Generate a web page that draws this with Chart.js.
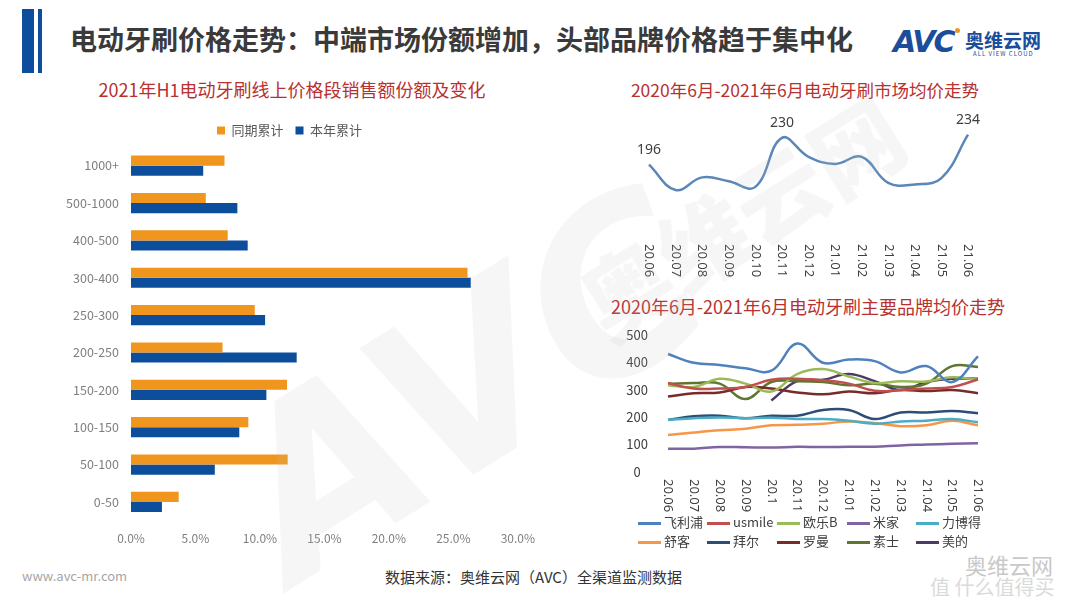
<!DOCTYPE html>
<html>
<head>
<meta charset="utf-8">
<script src="https://cdn.jsdelivr.net/npm/chart.js@4"></script>
<style>
  body { margin: 0; background: #fff; font-family: "Noto Sans CJK SC", "Noto Sans", sans-serif; }
  #page { position: relative; width: 1080px; height: 608px; overflow: hidden; background: #fff; }
  .abs { position: absolute; }
  .bar1 { left: 22px; top: 9px; width: 12px; height: 64px; background: #0c4e9b; }
  .bar2 { left: 38px; top: 9px; width: 4px; height: 64px; background: #0c4e9b; }
  .title { left: 70px; top: 19px; font-size: 27px; font-weight: bold; color: #3a3a3a; white-space: nowrap; }
  .sub { font-size: 18px; color: #b8312f; white-space: nowrap; transform: translateX(-50%); }
  .logo { left: 893px; top: 24px; color: #1a4d9c; }
  .legend2 { font-size: 13px; color: #404040; white-space: nowrap; }
  .legend2 i { display: inline-block; width: 23px; height: 2.5px; vertical-align: middle; margin-right: 3px; }
  canvas { display: block; }
</style>
</head>
<body>
<div id="page">
  <div class="abs bar1"></div>
  <div class="abs bar2"></div>
  <div class="abs title">电动牙刷价格走势：中端市场份额增加，头部品牌价格趋于集中化</div>
  <div class="abs logo">
    <span style="font: italic 900 30px 'DejaVu Sans', sans-serif; letter-spacing: -2px;">AVC</span><span style="position:absolute; left:62px; top:4px; width:5px; height:5px; border-radius:50%; background:#f0961e;"></span>
    <span style="position:absolute; left:72px; top:2px; font-size:19px; font-weight:bold; white-space:nowrap;">奥维云网</span>
    <span style="position:absolute; left:80px; top:25px; font-size:6px; letter-spacing:1px; white-space:nowrap;">ALL VIEW CLOUD</span>
  </div>

  <div class="abs sub" style="left:292px; top:76px;">2021年H1电动牙刷线上价格段销售额份额及变化</div>
  <div class="abs sub" style="left:805px; top:77px; font-size:17.5px;">2020年6月-2021年6月电动牙刷市场均价走势</div>
  <div class="abs sub" style="left:808px; top:293px;">2020年6月-2021年6月电动牙刷主要品牌均价走势</div>

  <div class="abs" style="left:60px; top:112px; width:478px; height:437px;"><canvas id="shareChart"></canvas></div>
  <div class="abs" style="left:615px; top:100px; width:390px; height:183px;"><canvas id="avgChart"></canvas></div>
  <div class="abs" style="left:612px; top:315px; width:380px; height:200px;"><canvas id="brandChart"></canvas></div>

  <div class="abs" style="left:22px; top:566px; font-size:13px; color:#a6a6a6;">www.avc-mr.com</div>
  <div class="abs" style="left:385px; top:566px; font-size:15px; color:#333;">数据来源：奥维云网（AVC）全渠道监测数据</div>
  <div class="abs" style="left:965px; top:548px; font-size:22px; color:#c8c8c8; white-space:nowrap;">奥维云网</div>
  <div class="abs" style="left:930px; top:572px; font-size:20px; color:#dadada; white-space:nowrap;">值 什么值得买</div>

  <div class="abs" style="left:215px; top:250px; font: italic 900 230px 'DejaVu Sans', sans-serif; color: rgba(190,190,190,0.14); transform: rotate(-32deg); pointer-events:none; white-space:nowrap;">AVC</div>
  <div class="abs" style="left:560px; top:150px; font-size:90px; font-weight:900; color: rgba(190,190,190,0.14); transform: rotate(-32deg); pointer-events:none; white-space:nowrap;">奥维云网</div>
</div>

<script>
// 价格段份额
var categories = ['1000+', '500-1000', '400-500', '300-400', '250-300', '200-250', '150-200', '100-150', '50-100', '0-50'];
var lastYear = [7.25, 5.8, 7.5, 26.1, 9.6, 7.1, 12.1, 9.1, 12.15, 3.7];   // 同期累计
var thisYear = [5.6, 8.25, 9.05, 26.35, 10.4, 12.85, 10.5, 8.4, 6.5, 2.4]; // 本年累计
var shareTicks = [0, 5, 10, 15, 20, 25, 30];

// 市场均价
var months = ['20.06', '20.07', '20.08', '20.09', '20.10', '20.11', '20.12', '21.01', '21.02', '21.03', '21.04', '21.05', '21.06'];
var avgPrice = [196, 164, 180, 175, 168, 230, 206, 197, 206, 173, 171, 179, 234];
var avgLabelIdx = [0, 5, 12];

// 主要品牌均价
var brandMonths = ['20.06', '20.07', '20.08', '20.09', '20.1', '20.11', '20.12', '21.01', '21.02', '21.03', '21.04', '21.05', '21.06'];
var brandNames = ['飞利浦', 'usmile', '欧乐B', '米家', '力博得', '舒客', '拜尔', '罗曼', '素士', '美的'];
var brandColors = ['#4f81bd', '#c0504d', '#9bbb59', '#8064a2', '#4bacc6', '#f79646', '#2c4d75', '#772c2a', '#5f7530', '#4d3b62'];
var philips = [430, 398, 390, 378, 369, 468, 398, 410, 404, 363, 386, 328, 421];
var usmile  = [324, 304, 304, 310, 336, 340, 334, 322, 296, 299, 304, 310, 337];
var oralB   = [316, 310, 340, 322, 293, 357, 375, 348, 324, 331, 330, 345, 336];
var mijia   = [85, 85, 91, 90, 89, 92, 91, 92, 92, 97, 100, 103, 105];
var libode  = [190, 196, 199, 196, 198, 193, 193, 187, 176, 184, 187, 193, 181];
var shuke   = [135, 144, 152, 158, 170, 172, 176, 184, 178, 167, 170, 187, 170];
var baier   = [190, 203, 205, 196, 205, 205, 226, 226, 193, 217, 217, 222, 214];
var luoman  = [275, 287, 290, 310, 304, 290, 283, 293, 287, 299, 295, 299, 287];
var soocas  = [322, 324, 322, 266, 328, 331, 328, 316, 322, 310, 322, 386, 383];
var midea   = [null, null, null, null, 261, 331, 336, 357, 331, 299, 328, 340, 340];
var brandValues = [philips, usmile, oralB, mijia, libode, shuke, baier, luoman, soocas, midea];
var brandTicks = [0, 100, 200, 300, 400, 500];

Chart.defaults.font.family = '"Noto Sans CJK SC", "Noto Sans", sans-serif';
Chart.defaults.color = '#595959';
Chart.defaults.animation = false;

// 竖排的x轴标签（顺时针旋转）
var verticalLabels = {
  id: 'verticalLabels',
  afterDraw: function(chart, args, opts) {
    var ctx = chart.ctx;
    var xs = chart.scales.x;
    ctx.save();
    ctx.fillStyle = opts.color;
    ctx.font = opts.size + 'px "Noto Sans", sans-serif';
    ctx.textAlign = 'left';
    ctx.textBaseline = 'middle';
    chart.data.labels.forEach(function(lab, i) {
      ctx.save();
      ctx.translate(xs.getPixelForValue(i), chart.chartArea.bottom + opts.offset);
      ctx.rotate(Math.PI / 2);
      ctx.fillText(lab, 0, 0);
      ctx.restore();
    });
    ctx.restore();
  }
};

var pointLabels = {
  id: 'pointLabels',
  afterDatasetsDraw: function(chart, args, opts) {
    if (!opts.indexes) return;
    var ctx = chart.ctx;
    var meta = chart.getDatasetMeta(0);
    ctx.save();
    ctx.fillStyle = '#404040';
    ctx.font = '14px "Noto Sans", sans-serif';
    ctx.textAlign = 'center';
    ctx.textBaseline = 'bottom';
    opts.indexes.forEach(function(i) {
      var p = meta.data[i];
      ctx.fillText(chart.data.datasets[0].data[i], p.x, p.y - 8);
    });
    ctx.restore();
  }
};

new Chart(document.getElementById('shareChart'), {
  type: 'bar',
  data: {
    labels: categories,
    datasets: [
      { label: '同期累计', data: lastYear, backgroundColor: '#f0961e' },
      { label: '本年累计', data: thisYear, backgroundColor: '#0c4e9b' }
    ]
  },
  options: {
    indexAxis: 'y',
    responsive: true,
    maintainAspectRatio: false,
    categoryPercentage: 0.54,
    barPercentage: 1.0,
    layout: { padding: { right: 19 } },
    plugins: {
      legend: {
        position: 'top',
        labels: { boxWidth: 8, boxHeight: 8, padding: 12, color: '#595959', font: { size: 13 } }
      },
      tooltip: { enabled: false }
    },
    scales: {
      x: {
        min: 0, max: 30,
        afterBuildTicks: function(s) { s.ticks = shareTicks.map(function(v) { return { value: v }; }); },
        grid: { display: false },
        border: { display: false },
        ticks: { color: '#7f7f7f', font: { size: 12 }, padding: 3, callback: function(v) { return v.toFixed(1) + '%'; } }
      },
      y: {
        afterFit: function(s) { s.width = 71; },
        grid: { display: false },
        border: { display: false },
        ticks: { color: '#7f7f7f', font: { size: 12.5 }, padding: 4 }
      }
    }
  }
});

new Chart(document.getElementById('avgChart'), {
  type: 'line',
  data: {
    labels: months,
    datasets: [{ data: avgPrice, borderColor: '#5b87b8', borderWidth: 2.5, tension: 0.4, pointRadius: 0, fill: false }]
  },
  options: {
    responsive: true,
    maintainAspectRatio: false,
    layout: { padding: { left: 34, right: 37, top: 22, bottom: 55 } },
    plugins: {
      legend: { display: false },
      tooltip: { enabled: false },
      verticalLabels: { color: '#404040', size: 13, offset: 16 },
      pointLabels: { indexes: avgLabelIdx }
    },
    scales: {
      x: { display: false },
      y: { display: false, min: 116, max: 250 }
    }
  },
  plugins: [verticalLabels, pointLabels]
});

new Chart(document.getElementById('brandChart'), {
  type: 'line',
  data: {
    labels: brandMonths,
    datasets: brandNames.map(function(name, i) {
      return { label: name, data: brandValues[i], borderColor: brandColors[i], borderWidth: 2.5,
               tension: 0.4, pointRadius: 0, fill: false, spanGaps: false };
    })
  },
  options: {
    responsive: true,
    maintainAspectRatio: false,
    layout: { padding: { right: 14, top: 14, bottom: 43 } },
    plugins: {
      legend: { display: false },
      tooltip: { enabled: false },
      verticalLabels: { color: '#404040', size: 13, offset: 7 }
    },
    scales: {
      x: { display: false },
      y: {
        min: 0, max: 500,
        afterBuildTicks: function(s) { s.ticks = brandTicks.map(function(v) { return { value: v }; }); },
        afterFit: function(s) { s.width = 56; },
        grid: { display: false },
        border: { display: false },
        ticks: { color: '#404040', font: { size: 13 }, crossAlign: 'center', padding: 12 }
      }
    }
  },
  plugins: [verticalLabels]
});

// 图例（两行五列）
var legendCols = [638, 707, 777, 847, 916];
var legendRows = [512, 531];
brandNames.forEach(function(name, i) {
  var d = document.createElement('div');
  d.className = 'abs legend2';
  d.style.left = legendCols[i % 5] + 'px';
  d.style.top = legendRows[Math.floor(i / 5)] + 'px';
  d.innerHTML = '<i style="background:' + brandColors[i] + '"></i>' + name;
  document.getElementById('page').appendChild(d);
});
</script>
</body>
</html>
